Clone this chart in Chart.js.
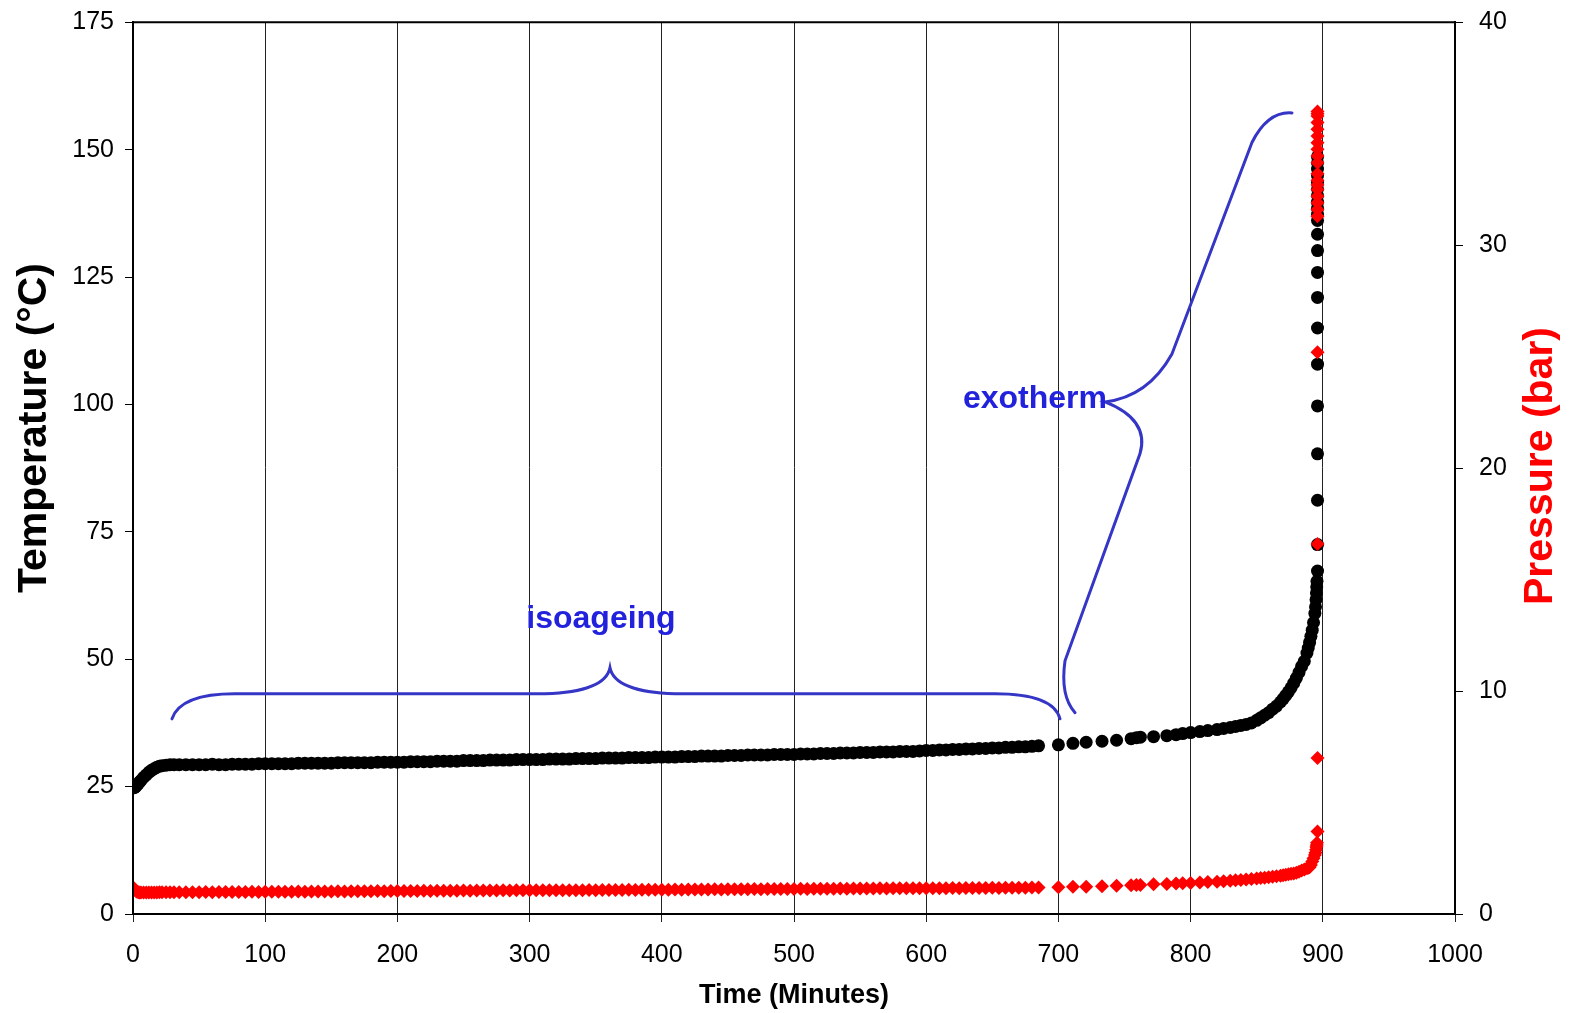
<!DOCTYPE html>
<html>
<head>
<meta charset="utf-8">
<script src="https://cdn.jsdelivr.net/npm/chart.js@4.4.0/dist/chart.umd.min.js"></script>
<style>
  html, body { margin: 0; padding: 0; background: #fff; }
  #wrap { width: 1570px; height: 1013px; }
</style>
</head>
<body>
<div id="wrap"><canvas id="chart" width="1570" height="1013"></canvas></div>
<script>
// time (minutes) of each reading
const timeMin = [
  0, 1, 2, 3, 4, 5, 6, 8, 10, 12, 14, 16, 18, 20, 22, 25, 28, 31, 35,
  40, 45, 50, 55, 60, 65, 70, 75, 80, 85, 90, 95,
  100, 105, 110, 115, 120, 125, 130, 135, 140, 145, 150, 155, 160, 165, 170, 175, 180, 185, 190, 195,
  200, 205, 210, 215, 220, 225, 230, 235, 240, 245, 250, 255, 260, 265, 270, 275, 280, 285, 290, 295,
  300, 305, 310, 315, 320, 325, 330, 335, 340, 345, 350, 355, 360, 365, 370, 375, 380, 385, 390, 395,
  400, 405, 410, 415, 420, 425, 430, 435, 440, 445, 450, 455, 460, 465, 470, 475, 480, 485, 490, 495,
  500, 505, 510, 515, 520, 525, 530, 535, 540, 545, 550, 555, 560, 565, 570, 575, 580, 585, 590, 595,
  600, 605, 610, 615, 620, 625, 630, 635, 640, 645, 650, 655, 660, 665, 670, 675, 680, 685,
  700, 711, 721, 733, 744, 755, 759, 762, 772, 782,
  789, 794, 800, 807, 813, 820, 825, 830, 834, 838,
  842, 846, 850, 853, 856, 859, 862, 865, 868, 870,
  872, 874, 876, 878, 880, 882, 884, 886, 888, 889,
  890, 891, 892, 893, 894, 894.5, 894.9, 895.2, 895.4, 895.6
];

// temperature (°C)
const tempC = [
  24.8, 24.8, 25.0, 25.3, 25.6, 25.9, 26.2, 26.8, 27.3, 27.8, 28.2, 28.5, 28.8, 29.0, 29.1, 29.2, 29.3, 29.3, 29.3,
  29.3, 29.3, 29.3, 29.3, 29.4, 29.3, 29.3, 29.4, 29.4, 29.4, 29.4, 29.5,
  29.5, 29.5, 29.5, 29.5, 29.5, 29.6, 29.6, 29.6, 29.6, 29.6, 29.6, 29.7, 29.7, 29.7, 29.7, 29.7, 29.7, 29.8, 29.8, 29.8,
  29.8, 29.8, 29.9, 29.9, 29.9, 29.9, 30.0, 30.0, 30.0, 30.0, 30.1, 30.1, 30.1, 30.1, 30.2, 30.2, 30.2, 30.2, 30.3, 30.3,
  30.3, 30.3, 30.3, 30.4, 30.4, 30.4, 30.4, 30.5, 30.5, 30.5, 30.5, 30.6, 30.6, 30.6, 30.6, 30.7, 30.7, 30.7, 30.7, 30.8,
  30.8, 30.8, 30.8, 30.9, 30.9, 30.9, 31.0, 31.0, 31.0, 31.0, 31.1, 31.1, 31.1, 31.2, 31.2, 31.2, 31.2, 31.3, 31.3, 31.3,
  31.3, 31.4, 31.4, 31.4, 31.5, 31.5, 31.5, 31.6, 31.6, 31.6, 31.7, 31.7, 31.7, 31.8, 31.8, 31.8, 31.9, 31.9, 31.9, 32.0,
  32.1, 32.1, 32.2, 32.2, 32.3, 32.3, 32.4, 32.4, 32.5, 32.5, 32.6, 32.6, 32.7, 32.7, 32.8, 32.8, 32.9, 33.0,
  33.2, 33.5, 33.7, 33.9, 34.1, 34.4, 34.6, 34.7, 34.8, 35.0,
  35.2, 35.4, 35.6, 35.8, 36.0, 36.2, 36.4, 36.6, 36.8, 37.0,
  37.2, 37.5, 38.0, 38.5, 39.0, 39.5, 40.2, 40.8, 41.6, 42.2,
  42.9, 43.6, 44.4, 45.3, 46.3, 47.4, 48.6, 49.6, 51.2, 52.2,
  53.3, 54.5, 55.7, 57.2, 59.0, 60.3, 61.7, 63.0, 64.2, 65.3
];

// pressure (bar)
const pressureBar = [
  1.20, 1.10, 1.04, 1.00, 0.98, 0.97, 0.97, 0.97, 0.97, 0.97, 0.97, 0.97, 0.97, 0.98, 0.98, 0.98, 0.98, 0.98, 0.98,
  0.98, 0.98, 0.98, 0.99, 0.98, 0.99, 0.99, 0.99, 0.99, 0.99, 1.00, 0.99,
  1.00, 1.00, 1.00, 1.00, 1.00, 1.01, 1.00, 1.01, 1.01, 1.01, 1.01, 1.02, 1.01, 1.02, 1.02, 1.02, 1.02, 1.03, 1.02, 1.03,
  1.03, 1.03, 1.03, 1.03, 1.04, 1.03, 1.04, 1.04, 1.04, 1.04, 1.05, 1.04, 1.05, 1.05, 1.05, 1.05, 1.06, 1.05, 1.06, 1.06,
  1.06, 1.06, 1.06, 1.07, 1.06, 1.07, 1.07, 1.07, 1.07, 1.08, 1.07, 1.08, 1.08, 1.08, 1.08, 1.09, 1.08, 1.09, 1.09, 1.09,
  1.09, 1.09, 1.10, 1.09, 1.10, 1.10, 1.10, 1.10, 1.11, 1.10, 1.11, 1.11, 1.11, 1.11, 1.12, 1.11, 1.12, 1.12, 1.12, 1.12,
  1.12, 1.13, 1.12, 1.13, 1.13, 1.13, 1.13, 1.14, 1.13, 1.14, 1.14, 1.14, 1.14, 1.15, 1.14, 1.15, 1.15, 1.15, 1.15, 1.16,
  1.16, 1.16, 1.16, 1.16, 1.17, 1.16, 1.17, 1.17, 1.17, 1.17, 1.18, 1.17, 1.18, 1.18, 1.18, 1.18, 1.19, 1.19,
  1.20, 1.22, 1.22, 1.25, 1.27, 1.29, 1.30, 1.30, 1.33, 1.35,
  1.37, 1.38, 1.39, 1.41, 1.43, 1.45, 1.47, 1.49, 1.51, 1.53,
  1.55, 1.57, 1.59, 1.61, 1.63, 1.65, 1.67, 1.69, 1.72, 1.74,
  1.76, 1.78, 1.80, 1.82, 1.85, 1.90, 1.95, 2.00, 2.05, 2.08,
  2.10, 2.20, 2.35, 2.50, 2.65, 2.75, 2.88, 3.00, 3.10, 3.20
];

// last burst of readings, all at ~896 min
const spikeTime = 896;
const spikeTemp = [67.3, 72.5, 81.2, 90.3, 99.7, 107.9, 115.0, 121.0, 125.9, 130.2, 133.4,
  136.1, 137.3, 138.5, 139.7, 141.0, 142.3, 143.6, 144.9, 146.2, 147.4, 148.6];
const spikePressure = [3.7, 7.0, 16.6, 25.2, 31.3, 31.6, 31.9, 32.2, 32.5, 32.7, 32.9,
  33.2, 33.7, 34.0, 34.3, 34.6, 34.9, 35.2, 35.5, 35.8, 35.9, 36.0];

const timeTicks = [0, 100, 200, 300, 400, 500, 600, 700, 800, 900, 1000];
const tempTicks = [0, 25, 50, 75, 100, 125, 150, 175];
const pressureTicks = [0, 10, 20, 30, 40];

// brace annotations, in data units (minutes, °C)
const isoBrace = [
  ['M', 29.5, 38.3],
  ['Q', 36, 43.2, 77.2, 43.2],
  ['L', 311.6, 43.2],
  ['Q', 357, 43.6, 360.8, 48.3],
  ['Q', 364.6, 43.6, 410, 43.2],
  ['L', 652, 43.2],
  ['Q', 696, 43.2, 701.2, 38.3]
];
const exoBrace = [
  ['M', 712.6, 39.5],
  ['Q', 701.2, 42.8, 705, 49.7],
  ['L', 761.7, 90.3],
  ['Q', 769.3, 97.0, 735.3, 100.5],
  ['Q', 767.8, 101.5, 785.9, 109.9],
  ['L', 846.4, 151.4],
  ['Q', 858.5, 157.6, 876.7, 157.2]
];
const braceLabels = [
  { text: 'isoageing', x: 354, y: 57.9 },
  { text: 'exotherm', x: 682.3, y: 101.1 }
];

const tempPoints = timeMin.map((t, i) => ({ x: t, y: tempC[i] }))
  .concat(spikeTemp.map(v => ({ x: spikeTime, y: v })));
const pressurePoints = timeMin.map((t, i) => ({ x: t, y: pressureBar[i] }))
  .concat(spikePressure.map(v => ({ x: spikeTime, y: v })));

const setTicks = arr => scale => { scale.ticks = arr.map(v => ({ value: v })); };
const FONT = '"Liberation Sans", Arial, sans-serif';

const annotations = {
  id: 'annotations',
  afterDatasetsDraw(chart) {
    const { ctx, chartArea, scales: { x, y } } = chart;
    const px = v => x.getPixelForValue(v);
    const py = v => y.getPixelForValue(v);

    // frame round the plot
    ctx.save();
    ctx.strokeStyle = '#000';
    ctx.lineWidth = 2;
    ctx.strokeRect(chartArea.left, chartArea.top, chartArea.right - chartArea.left, chartArea.bottom - chartArea.top);
    ctx.restore();

    // braces
    ctx.save();
    ctx.strokeStyle = '#3535c6';
    ctx.lineWidth = 3;
    ctx.lineCap = 'round';
    [isoBrace, exoBrace].forEach(path => {
      ctx.beginPath();
      path.forEach(seg => {
        if (seg[0] === 'M') ctx.moveTo(px(seg[1]), py(seg[2]));
        else if (seg[0] === 'L') ctx.lineTo(px(seg[1]), py(seg[2]));
        else ctx.quadraticCurveTo(px(seg[1]), py(seg[2]), px(seg[3]), py(seg[4]));
      });
      ctx.stroke();
    });
    ctx.fillStyle = '#2222dd';
    ctx.font = 'bold 32px ' + FONT;
    ctx.textAlign = 'center';
    ctx.textBaseline = 'middle';
    braceLabels.forEach(l => ctx.fillText(l.text, px(l.x), py(l.y)));
    ctx.restore();

    // axis titles (both read bottom to top)
    ctx.save();
    ctx.textAlign = 'center';
    ctx.textBaseline = 'middle';
    ctx.font = 'bold 41px ' + FONT;
    ctx.fillStyle = '#000';
    ctx.translate(35, 428);
    ctx.rotate(-Math.PI / 2);
    ctx.fillText('Temperature (°C)', 0, 0);
    ctx.restore();

    ctx.save();
    ctx.textAlign = 'center';
    ctx.textBaseline = 'middle';
    ctx.font = 'bold 41px ' + FONT;
    ctx.fillStyle = '#ff0000';
    ctx.translate(1541, 466);
    ctx.rotate(-Math.PI / 2);
    ctx.fillText('Pressure (bar)', 0, 0);
    ctx.restore();
  }
};

const tickFont = { family: FONT, size: 25 };
const yTickFont = { family: FONT, size: 25, lineHeight: 0.5 };

new Chart(document.getElementById('chart'), {
  type: 'scatter',
  data: {
    datasets: [
      {
        label: 'Pressure',
        data: pressurePoints,
        yAxisID: 'y1',
        pointStyle: 'rectRot',
        pointRadius: 7,
        pointBackgroundColor: '#ff0000',
        pointBorderWidth: 0,
        showLine: false
      },
      {
        label: 'Temperature',
        data: tempPoints,
        yAxisID: 'y',
        pointStyle: 'circle',
        pointRadius: 6.5,
        pointBackgroundColor: '#000',
        pointBorderWidth: 0,
        showLine: false
      }
    ]
  },
  options: {
    responsive: false,
    animation: false,
    layout: { padding: { top: 19, left: 0, right: 0, bottom: 0 } },
    plugins: {
      legend: { display: false },
      tooltip: { enabled: false }
    },
    scales: {
      x: {
        type: 'linear',
        min: 0,
        max: 1000,
        afterBuildTicks: setTicks(timeTicks),
        afterFit: s => { s.height = 99; },
        ticks: { font: tickFont, color: '#000', padding: 18, maxRotation: 0, callback: v => String(v) },
        grid: { color: '#222', lineWidth: 1, tickLength: 8, drawOnChartArea: true },
        border: { color: '#000', width: 2 },
        title: {
          display: true,
          text: 'Time (Minutes)',
          color: '#000',
          font: { family: FONT, size: 27, weight: 'bold', lineHeight: 1 },
          padding: 4
        }
      },
      y: {
        position: 'left',
        min: 0,
        max: 175,
        afterBuildTicks: setTicks(tempTicks),
        afterFit: s => { s.width = 133; },
        ticks: { font: yTickFont, color: '#000', padding: 11 },
        grid: { drawOnChartArea: false, color: '#000', tickLength: 8 },
        border: { color: '#000', width: 2 }
      },
      y1: {
        position: 'right',
        min: 0,
        max: 40,
        afterBuildTicks: setTicks(pressureTicks),
        afterFit: s => { s.width = 115; },
        ticks: { font: yTickFont, color: '#000', padding: 16 },
        grid: { drawOnChartArea: false, color: '#000', tickLength: 8 },
        border: { color: '#000', width: 2 }
      }
    }
  },
  plugins: [annotations]
});
</script>
</body>
</html>
